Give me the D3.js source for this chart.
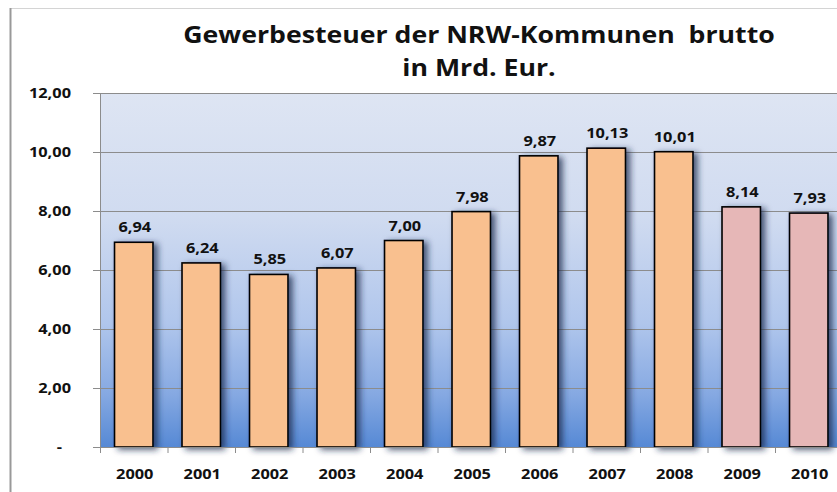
<!DOCTYPE html>
<html><head><meta charset="utf-8">
<script src="https://cdn.jsdelivr.net/npm/d3@7"></script>
<style>html,body{margin:0;padding:0;background:#fff;overflow:hidden}</style>
</head><body>
<svg id="c" width="837" height="492"></svg>
<script>
const years = ["2000","2001","2002","2003","2004","2005","2006","2007","2008","2009","2010"];
const values = [6.94,6.24,5.85,6.07,7.00,7.98,9.87,10.13,10.01,8.14,7.93];
const valueLabels = ["6,94","6,24","5,85","6,07","7,00","7,98","9,87","10,13","10,01","8,14","7,93"];
const yTicks = [0,2,4,6,8,10,12];
const yTickLabels = ["-","2,00","4,00","6,00","8,00","10,00","12,00"];
const titleLines = ["Gewerbesteuer der NRW-Kommunen  brutto","in Mrd. Eur."];
const barColors = ["#f9c08f","#f9c08f","#f9c08f","#f9c08f","#f9c08f","#f9c08f","#f9c08f","#f9c08f","#f9c08f","#e6b7b7","#e6b7b7"];

const svg = d3.select("#c");
const font = "'Open Sans', sans-serif";
const sx = 1.17;

const defs = svg.append("defs");
const g = defs.append("linearGradient").attr("id","bg").attr("x1",0).attr("y1",0).attr("x2",0).attr("y2",1);
[[0,"#dee5f3"],[0.35,"#d0dbf0"],[0.65,"#b0c6ec"],[0.85,"#86a9e2"],[1,"#5689d5"]].forEach(s=>g.append("stop").attr("offset",s[0]).attr("stop-color",s[1]));
const f = defs.append("filter").attr("id","sh").attr("x","-30%").attr("y","-10%").attr("width","180%").attr("height","130%");
f.append("feDropShadow").attr("dx",4).attr("dy",2).attr("stdDeviation",3).attr("flood-color","#1a2a4a").attr("flood-opacity",0.75);

// frame
svg.append("line").attr("x1",10).attr("x2",837).attr("y1",8.5).attr("y2",8.5).attr("stroke","#d4d4d4").attr("stroke-width",1);
svg.append("line").attr("x1",10.5).attr("x2",10.5).attr("y1",8).attr("y2",492).attr("stroke","#999").attr("stroke-width",2);

const x = d3.scaleBand().domain(years).range([100,842.5]).padding(0);
const y = d3.scaleLinear().domain([0,12]).range([447,93]);

// plot bg
svg.append("rect").attr("x",100).attr("y",y(12)).attr("width",742.5).attr("height",y(0)-y(12)).attr("fill","url(#bg)");

// gridlines
svg.append("g").selectAll("line").data(yTicks.filter(d=>d>0)).join("line")
  .attr("x1",93).attr("x2",842.5).attr("y1",d=>Math.round(y(d))+0.5).attr("y2",d=>Math.round(y(d))+0.5)
  .attr("stroke","#8c8c8c").attr("stroke-width",1);
// y axis line
svg.append("line").attr("x1",100.5).attr("x2",100.5).attr("y1",y(12)).attr("y2",y(0)).attr("stroke","#8c8c8c");

// bars
const bw = x.bandwidth()*0.57;
svg.append("g").selectAll("rect").data(values).join("rect")
  .attr("x",(d,i)=>x(years[i])+(x.bandwidth()-bw)/2)
  .attr("y",d=>y(d))
  .attr("width",bw).attr("height",d=>y(0)-y(d))
  .attr("fill",(d,i)=>barColors[i]).attr("stroke","#000").attr("stroke-width",1.6)
  .attr("filter","url(#sh)");

// x axis
svg.append("line").attr("x1",93).attr("x2",842.5).attr("y1",447.5).attr("y2",447.5).attr("stroke","#8c8c8c");
svg.append("g").selectAll("line").data(years.concat(["end"])).join("line")
  .attr("x1",(d,i)=>100+i*x.step()+0.5).attr("x2",(d,i)=>100+i*x.step()+0.5)
  .attr("y1",447).attr("y2",453).attr("stroke","#8c8c8c");

function txt(sel, size){ return sel.attr("font-family",font).attr("font-weight","bold").attr("font-size",size).attr("fill","#111"); }

// y tick labels
txt(svg.append("g").selectAll("text").data(yTicks).join("text"),"14px")
  .attr("transform",(d,i)=>`translate(${i===0?62:71},${y(d)+5}) scale(${sx},1)`)
  .attr("text-anchor","end").text((d,i)=>yTickLabels[i]);

// x labels
txt(svg.append("g").selectAll("text").data(years).join("text"),"14px")
  .attr("transform",d=>`translate(${x(d)+x.bandwidth()/2+1},479) scale(${sx},1)`)
  .attr("text-anchor","middle").text(d=>d);

// value labels
txt(svg.append("g").selectAll("text").data(values).join("text"),"14px")
  .attr("transform",(d,i)=>`translate(${x(years[i])+x.bandwidth()/2+1},${y(d)-10}) scale(${sx},1)`)
  .attr("text-anchor","middle").text((d,i)=>valueLabels[i]);

// title
txt(svg.append("text"),"23px").style("white-space","pre").attr("xml:space","preserve")
  .attr("transform",`translate(479,43) scale(1.16,1)`).attr("text-anchor","middle").text(titleLines[0]);
txt(svg.append("text"),"23px").attr("transform",`translate(479,76) scale(1.16,1)`).attr("text-anchor","middle").text(titleLines[1]);
</script>
</body></html>
